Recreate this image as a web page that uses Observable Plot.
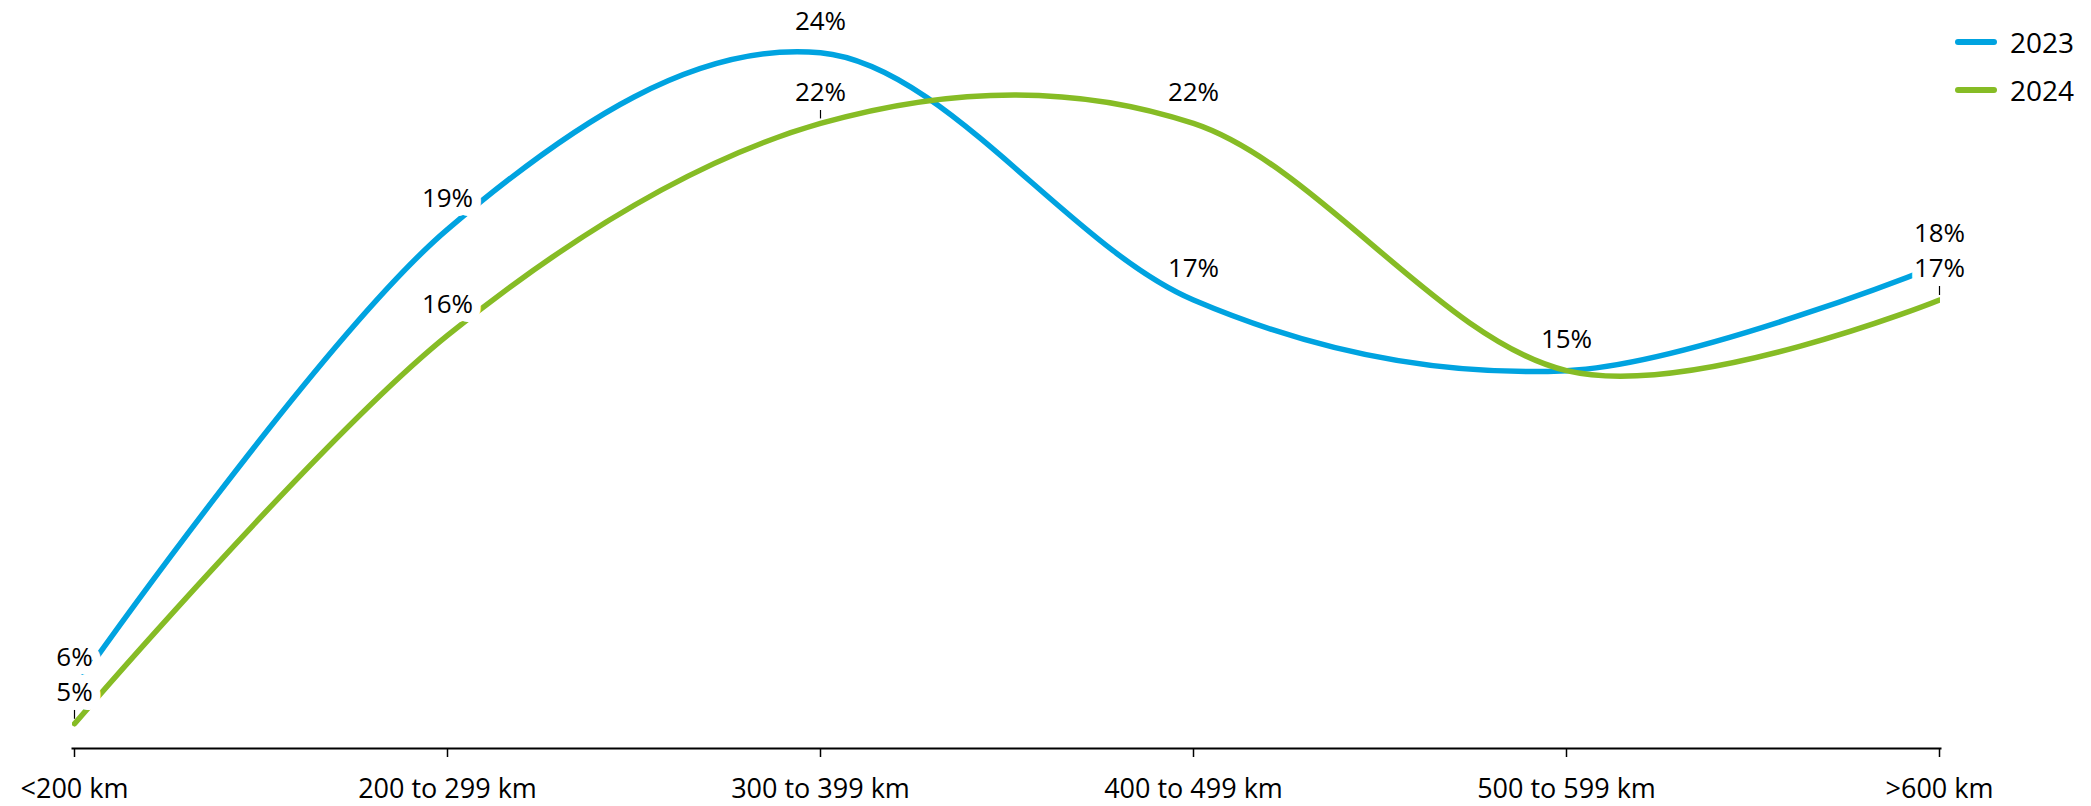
<!DOCTYPE html>
<html>
<head>
<meta charset="utf-8">
<script src="https://cdn.jsdelivr.net/npm/d3@7"></script>
<script src="https://cdn.jsdelivr.net/npm/@observablehq/plot@0.6"></script>
<style>
  html, body { margin: 0; padding: 0; background: #fff; }
  #wrap { position: relative; width: 2091px; height: 806px; font-family: "Open Sans", sans-serif; }
  #legend { position: absolute; left: 1955px; top: 0; }
  .row { position: absolute; left: 0; display: flex; align-items: center; white-space: nowrap; font-size: 28px; color: #000; }
  .swatch { width: 42px; height: 6px; border-radius: 3px; margin-right: 13px; }
</style>
</head>
<body>
<div id="wrap"></div>
<script>
// Share of trips by distance band
const categories = ["<200 km", "200 to 299 km", "300 to 399 km", "400 to 499 km", "500 to 599 km", ">600 km"];
const series = ["2023", "2024"];
const share2023 = [6, 19, 24, 17, 15, 18];
const share2024 = [5, 16, 22, 22, 15, 17];
const colors = ["#00A3E0", "#86BC25"];
// 2024 labels that carry a short leader line
const leaderCats2024 = ["<200 km", "300 to 399 km", ">600 km"];

const rows = [
  ...categories.map((c, i) => ({cat: c, year: series[0], v: share2023[i]})),
  ...categories.map((c, i) => ({cat: c, year: series[1], v: share2024[i]}))
];

// vertical leader stroke used as a dot symbol
const leaderTick = {
  draw(context, size) {
    const r = Math.sqrt(size / Math.PI);
    context.moveTo(0, -r);
    context.lineTo(0, r);
  }
};

const chart = Plot.plot({
  width: 2091,
  height: 806,
  marginLeft: 72,
  marginRight: 151,
  marginTop: 47,
  marginBottom: 58,
  style: {fontFamily: "'Open Sans', sans-serif", fontSize: "27px", color: "#000", background: "#fff"},
  x: {type: "point", domain: categories, padding: 0, label: null},
  y: {domain: [4.3, 24.15], axis: null},
  color: {domain: series, range: colors},
  marks: [
    Plot.frame({anchor: "bottom", stroke: "#000", strokeWidth: 2}),
    Plot.axisX({tickSize: 9, tickPadding: 21, stroke: "#000", strokeWidth: 1.5, fill: "#000", label: null}),
    Plot.line(rows, {x: "cat", y: "v", z: "year", stroke: "year", strokeWidth: 5.5, curve: "cardinal", clip: true}),
    Plot.dot(rows.filter(d => d.year === "2024" && leaderCats2024.includes(d.cat)), {
      x: "cat", y: "v", symbol: leaderTick, r: 4.5, stroke: "#000", strokeWidth: 1.2, fill: "none", dy: -9.5
    }),
    Plot.text(rows, {
      x: "cat", y: "v", text: d => `${d.v}%`, dy: -31, lineAnchor: "middle",
      fontSize: 26, fill: "#000", stroke: "white", strokeWidth: 18, strokeLinejoin: "round"
    })
  ]
});

const wrap = document.getElementById("wrap");
wrap.appendChild(chart);

// Legend in the top-right corner
const legend = document.createElement("div");
legend.id = "legend";
series.forEach((s, i) => {
  const row = document.createElement("div");
  row.className = "row";
  row.style.top = (42 + i * 48 - 20) + "px";
  row.style.height = "40px";
  const sw = document.createElement("span");
  sw.className = "swatch";
  sw.style.background = colors[i];
  const label = document.createElement("span");
  label.textContent = s;
  row.appendChild(sw);
  row.appendChild(label);
  legend.appendChild(row);
});
wrap.appendChild(legend);
</script>
</body>
</html>
